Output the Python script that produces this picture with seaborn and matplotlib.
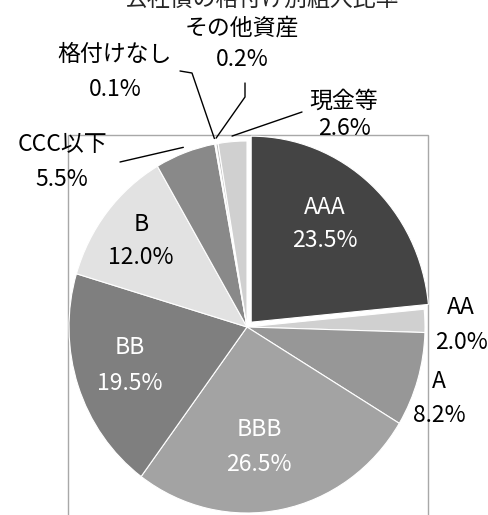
import numpy as np
import matplotlib
matplotlib.use("Agg")
import matplotlib.pyplot as plt
import seaborn as sns
from matplotlib.patches import Rectangle
from matplotlib.lines import Line2D

sns.set_theme(style="white")
plt.rcParams['font.family'] = ['Noto Sans CJK JP', 'DejaVu Sans']

# Data
title = "公社債の格付け別組入比率"
labels = ["AAA", "AA", "A", "BBB", "BB", "B", "CCC以下", "格付けなし", "その他資産", "現金等"]
values = [23.5, 2.0, 8.2, 26.5, 19.5, 12.0, 5.5, 0.1, 0.2, 2.6]
colors = ["#444444", "#d0d0d0", "#979797", "#a3a3a3", "#7f7f7f",
          "#e2e2e2", "#898989", "#a0a0a0", "#c0c0c0", "#d0d0d0"]
text_colors = ["white", "black", "black", "white", "white",
               "black", "black", "black", "black", "black"]
explode = [0.035, 0, 0, 0, 0, 0, 0, 0, 0, 0]

# label layout in pixels (x, y from top), gap between the two lines
label_pos = [(325, 222), (461, 323), (439, 397), (259, 445), (130, 364),
             (141, 239), (62, 160), (115, 70), (242, 42), (344, 113)]
label_gap = [33, 35, 34, 35, 36, 34, 35, 35, 32, 27]
# leader lines: start point and optional elbow, in pixels
leaders = {
    6: [(120, 162)],
    7: [(180, 71), (192, 73)],
    8: [(245, 83), (245, 97)],
    9: [(302, 112)],
}

W, H = 488, 515
CX, CY = 247, 327
RX, RY = 178, 186
FS = 16.5

fig = plt.figure(figsize=(W / 100, H / 100), dpi=100)
ax = fig.add_axes([0, 0, 1, 1])

wedges, _ = ax.pie(values, colors=colors, startangle=90, counterclock=False,
                   explode=explode,
                   wedgeprops=dict(edgecolor="white", linewidth=0.8))
ax.set_aspect("auto")
ax.set_xlim(-CX / RX, (W - CX) / RX)
ax.set_ylim(-(H - CY) / RY, CY / RY)
ax.axis("off")

# plot area frame
fig.add_artist(Rectangle((68 / W, -0.02), 360 / W, (H - 135) / H + 0.02,
                         transform=fig.transFigure, fill=False,
                         edgecolor="#a8a8a8", linewidth=1, zorder=-1))

# labels
for i, (lab, v) in enumerate(zip(labels, values)):
    x, y = label_pos[i]
    g = label_gap[i]
    for txt, yy in [(lab, y - g / 2), ("%.1f%%" % v, y + g / 2)]:
        fig.text(x / W, 1 - (yy + 8.5) / H, txt, ha="center", va="baseline",
                 fontsize=FS, color=text_colors[i])

# leader lines
for i, pts in leaders.items():
    w = wedges[i]
    t = np.deg2rad((w.theta1 + w.theta2) / 2)
    ex, ey = ax.transData.transform((1.03 * np.cos(t), 1.03 * np.sin(t)))
    xs = [p[0] for p in pts] + [ex]
    ys = [H - p[1] for p in pts] + [ey]
    fig.add_artist(Line2D(xs, ys, transform=None, color="black", linewidth=1))

# title (top cut off as in the original)
fig.text(262 / W, 1 - 6 / H, title, ha="center", va="baseline", fontsize=FS)

fig.savefig("out.png", dpi=100)
